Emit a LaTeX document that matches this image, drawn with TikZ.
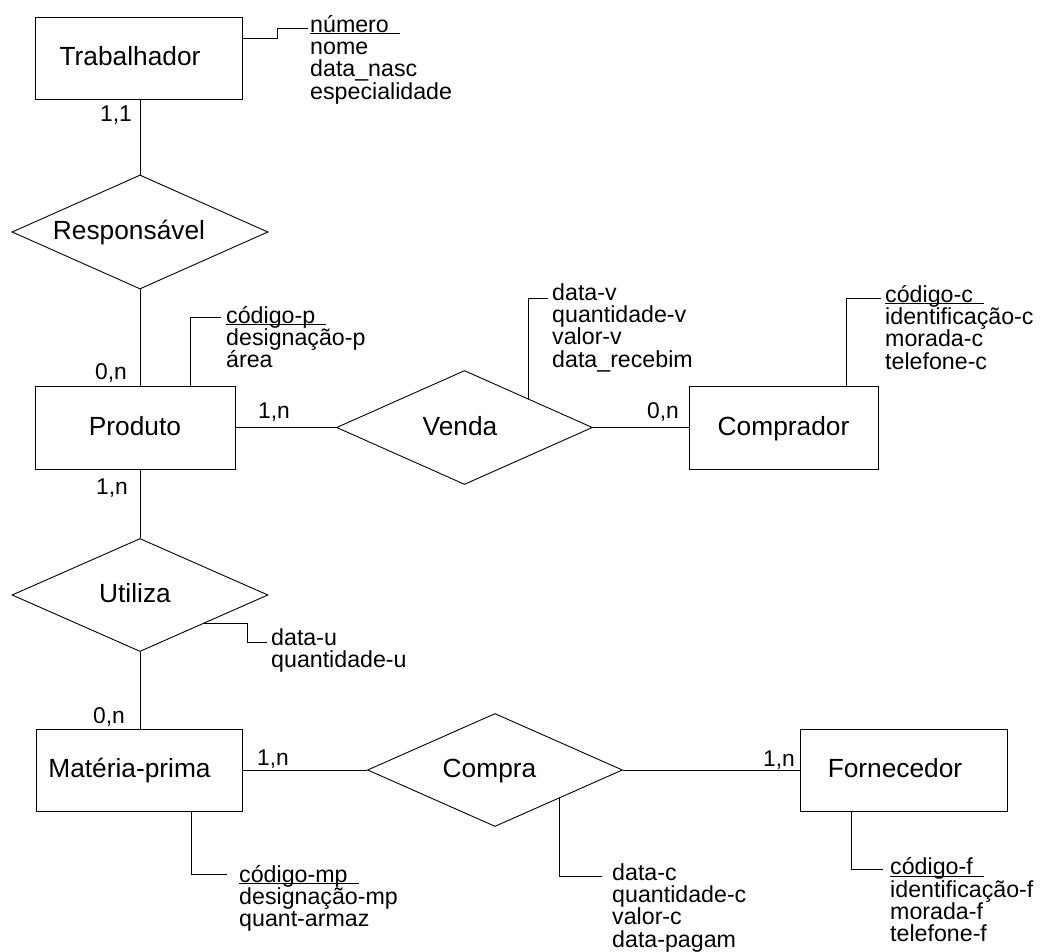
\documentclass[tikz,border=0pt]{standalone}
\usepackage{fontspec}
\setmainfont{Liberation Sans}
\usetikzlibrary{shapes.geometric}
\newcommand\attrstrut{\rule{0pt}{18pt}}
\newcommand\keyattr[1]{\setbox0\hbox{#1}\rlap{\rule[-2pt]{\dimexpr\wd0+11pt\relax}{0.9pt}}\box0}
\tikzset{
  entity/.style={draw, line width=0.9pt, inner sep=0pt, text height=20pt, text depth=4.2pt,
    font=\fontsize{26.3}{28}\selectfont},
  relation/.style={draw, diamond, aspect=2.25, line width=0.9pt, inner sep=0pt,
    text height=20pt, text depth=4.2pt,
    minimum width=256pt, minimum height=114pt, font=\fontsize{26.3}{28}\selectfont},
  attrs/.style={anchor=north west, inner sep=0pt, align=left, font=\fontsize{23.2}{22.3}\selectfont},
  card/.style={anchor=base west, inner sep=0pt, font=\fontsize{22.8}{22.3}\selectfont},
  conn/.style={line width=0.9pt},
}
\begin{document}
\begin{tikzpicture}[x=1pt,y=-1pt]
\useasboundingbox (0,0) rectangle (1047,952);

% entities
\node[entity, minimum width=207pt, minimum height=82pt] (trab) at (138.5,58) {\hspace*{-17pt}Trabalhador};
\node[entity, minimum width=200pt, minimum height=83pt] (prod) at (135,427.5) {Produto};
\node[entity, minimum width=189pt, minimum height=83pt] (comp) at (783.5,427.5) {Comprador};
\node[entity, minimum width=206pt, minimum height=82pt] (mat) at (139,770) {\hspace*{-19pt}Matéria-prima};
\node[entity, minimum width=207pt, minimum height=82pt] (forn) at (903.5,770) {\hspace*{-17pt}Fornecedor};

% relationships
\node[relation] (resp) at (140,232) {\hspace*{-22pt}Responsável};
\node[relation] (venda) at (464.5,427.5) {\hspace*{-9pt}Venda};
\node[relation, minimum height=113pt] (util) at (140,595) {\hspace*{-10pt}Utiliza};
\node[relation, minimum width=255pt, minimum height=113pt] (compra) at (495,770) {\hspace*{-11pt}Compra};

% attributes
\node[attrs] (trabA) at (310,14) {\attrstrut\keyattr{número}\\nome\\data\_nasc\\especialidade};
\node[attrs] (prodA) at (226,305) {\attrstrut\keyattr{código-p}\\designação-p\\área};
\node[attrs] (vendA) at (552,282) {\attrstrut data-v\\quantidade-v\\valor-v\\data\_recebim};
\node[attrs] (compA) at (885,284) {\attrstrut\keyattr{código-c}\\identificação-c\\morada-c\\telefone-c};
\node[attrs] (utilA) at (271,627) {\attrstrut data-u\\quantidade-u};
\node[attrs] (matA) at (239,864) {\attrstrut\keyattr{código-mp}\\designação-mp\\quant-armaz};
\node[attrs] (compraA) at (612,862) {\attrstrut data-c\\quantidade-c\\valor-c\\data-pagam};
\node[attrs] (fornA) at (890,856.5) {\attrstrut\keyattr{código-f}\\identificação-f\\morada-f\\telefone-f};

% cardinalities
\node[card] (c1) at (100,122) {1,1};
\node[card] (c2) at (95,379.5) {0,n};
\node[card] (c3) at (258,418) {1,n};
\node[card] (c4) at (647,418) {0,n};
\node[card] (c5) at (96,494) {1,n};
\node[card] (c6) at (93,723) {0,n};
\node[card] (c7) at (257,765) {1,n};
\node[card] (c8) at (763,766.5) {1,n};

% relationship connectors
\draw[conn] (trab.south -| resp.north) -- (resp.north);
\draw[conn] (resp.south) -- (resp.south |- prod.north);
\draw[conn] (prod.east) -- (venda.west);
\draw[conn] (venda.east) -- (comp.west);
\draw[conn] (prod.south -| util.north) -- (util.north);
\draw[conn] (util.south) -- (util.south |- mat.north);
\draw[conn] (mat.east) -- (compra.west);
\draw[conn] (compra.east) -- (forn.west);

% attribute connectors
\draw[conn] (trab.east |- 0,38) -| (277,28) -- ([xshift=-2pt]trabA.west |- 0,28);
\draw[conn] (prod.north -| 190,0) |- ([xshift=-5pt]prodA.west |- 0,317);
\draw[conn] (venda.north east) |- ([xshift=-4pt]vendA.west |- 0,298);
\draw[conn] (comp.north -| 846,0) |- ([xshift=-4pt]compA.west |- 0,298);
\draw[conn] (util.south east) -| (247,642) -- ([xshift=-4pt]utilA.west |- 0,642);
\draw[conn] (mat.south -| 191,0) |- ([xshift=-12pt]matA.west |- 0,874);
\draw[conn] (compra.south east) |- ([xshift=-10pt]compraA.west |- 0,876);
\draw[conn] (forn.south -| 851,0) |- ([xshift=-7pt]fornA.west |- 0,869);
\end{tikzpicture}
\end{document}
